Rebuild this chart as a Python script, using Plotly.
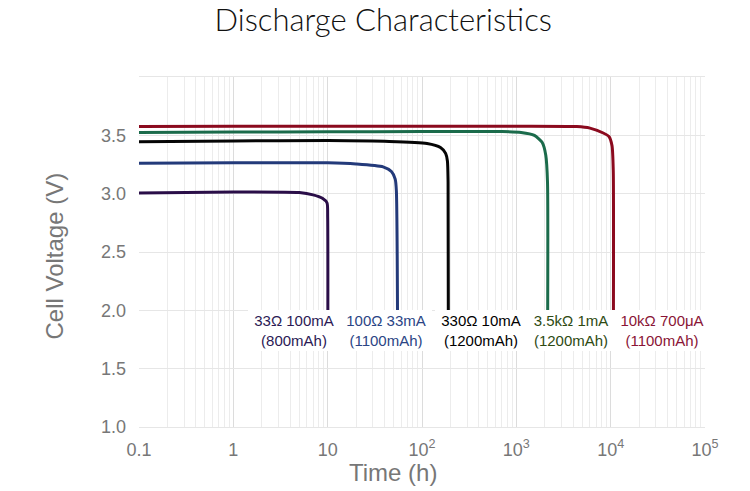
import plotly.graph_objects as go

# ---------------- data (time in hours, voltage in V) ----------------
t_33 = [0.1, 1, 5, 7, 8.8, 9.85, 10.0, 10.05]
v_33 = [3.005, 3.015, 3.01, 2.99, 2.96, 2.92, 2.8, 2.0]

t_100 = [0.1, 1, 10, 20, 38.7, 47.4, 52, 53.5, 55]
v_100 = [3.26, 3.265, 3.265, 3.255, 3.23, 3.19, 3.125, 3.025, 2.0]

t_330 = [0.1, 1, 10, 45, 113, 157, 178, 186, 189, 190]
v_330 = [3.445, 3.452, 3.455, 3.448, 3.43, 3.395, 3.345, 3.28, 3.1, 2.0]

t_3k5 = [0.1, 1, 10, 100, 708, 1124, 1553, 1876, 2052, 2140, 2150]
v_3k5 = [3.525, 3.528, 3.53, 3.532, 3.532, 3.525, 3.50, 3.44, 3.33, 3.1, 2.0]

t_10k = [0.1, 1, 10, 100, 1000, 4370, 6030, 8340, 9590, 10340, 10650, 10700]
v_10k = [3.575, 3.577, 3.578, 3.578, 3.578, 3.575, 3.562, 3.52, 3.49, 3.41, 3.2, 2.0]

label_top = ["33Ω 100mA", "100Ω 33mA", "330Ω 10mA", "3.5kΩ 1mA", "10kΩ 700μA"]
label_bottom = ["(800mAh)", "(1100mAh)", "(1200mAh)", "(1200mAh)", "(1100mAh)"]

x_tickvals = [0.1, 1, 10, 100, 1000, 10000, 100000]
x_ticktext = ["0.1", "1", "10", "10<sup>2</sup>", "10<sup>3</sup>", "10<sup>4</sup>", "10<sup>5</sup>"]
y_tickvals = [1.0, 1.5, 2.0, 2.5, 3.0, 3.5]
y_ticktext = ["1.0", "1.5", "2.0", "2.5", "3.0", "3.5"]

# ---------------- styles ----------------
series = [
    (t_33, v_33, "#2a0e48", "#2b1a55"),
    (t_100, v_100, "#233a7a", "#2b4585"),
    (t_330, v_330, "#050505", "#000000"),
    (t_3k5, v_3k5, "#1b6b4b", "#2e4a12"),
    (t_10k, v_10k, "#8b0a1e", "#8a1536"),
]
label_x = [0.2735, 0.437, 0.605, 0.764, 0.924]

minor_vals = [k * 10.0 ** n for n in range(-1, 5) for k in range(2, 10)]

fig = go.Figure()
for (t, v, lc, _), name in zip(series, label_top):
    fig.add_trace(go.Scatter(x=t, y=v, mode="lines", name=name,
                             line=dict(color=lc, width=3, shape="spline", smoothing=0.6),
                             showlegend=False, hoverinfo="skip"))

for i, (_, _, _, tc) in enumerate(series):
    fig.add_annotation(
        xref="paper", yref="paper", x=label_x[i], y=0.276,
        xanchor="center", yanchor="middle",
        text=label_top[i] + "<br>" + label_bottom[i],
        showarrow=False, align="center",
        font=dict(family="Liberation Sans, Arial, sans-serif", size=15, color=tc),
        bgcolor="white", width=88, borderpad=2, borderwidth=0,
    )

grey = "#777777"
fig.add_annotation(xref="paper", yref="paper", x=0.4485, y=-0.131,
                   xanchor="center", yanchor="middle", showarrow=False,
                   text="Time (h)",
                   font=dict(family="Liberation Sans, Arial, sans-serif", size=24, color=grey))
fig.add_annotation(xref="paper", yref="paper", x=-0.149, y=0.489,
                   xanchor="center", yanchor="middle", showarrow=False,
                   text="Cell Voltage (V)", textangle=-90,
                   font=dict(family="Liberation Sans, Arial, sans-serif", size=24, color=grey))

fig.update_layout(
    width=750, height=491,
    margin=dict(l=139, r=45, t=77, b=64),
    paper_bgcolor="white", plot_bgcolor="white",
    title=dict(text="Discharge Characteristics", x=0.511, y=0.959,
               xanchor="center", yanchor="middle",
               font=dict(family="Lato, Inter, sans-serif", size=31, color="#111111", weight=300)),
    xaxis=dict(type="log", range=[-1, 5], tickmode="array", tickvals=x_tickvals,
               ticktext=x_ticktext, showgrid=True, gridcolor="#dcdcdc", gridwidth=1,
               zeroline=False, showline=True, mirror=True, linecolor="#e6e6e6", linewidth=1,
               ticks="", ticklabelstandoff=6,
               tickfont=dict(family="Liberation Sans, Arial, sans-serif", size=18, color=grey),
               minor=dict(tickmode="array", tickvals=minor_vals, showgrid=True,
                          gridcolor="#ececec", gridwidth=1, ticks="")),
    yaxis=dict(range=[1, 4], tickmode="array", tickvals=y_tickvals, ticktext=y_ticktext,
               showgrid=True, gridcolor="#e6e6e6", gridwidth=1, zeroline=False,
               showline=False, ticks="", ticklabelstandoff=12,
               tickfont=dict(family="Liberation Sans, Arial, sans-serif", size=18, color=grey)),
)

fig.write_html("out.html")
